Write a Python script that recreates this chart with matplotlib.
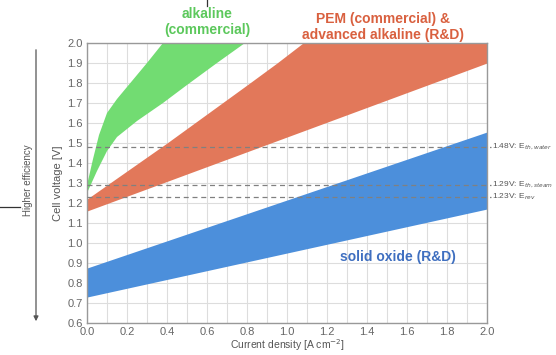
import matplotlib
matplotlib.use('Agg')
import matplotlib.pyplot as plt
import numpy as np

plt.rcParams['font.family'] = ['Liberation Sans', 'DejaVu Sans']

# alkaline (commercial) band: upper and lower edge
alk_up_x = [0.0, 0.03, 0.06, 0.1, 0.15, 0.2, 0.3, 0.38]
alk_up_y = [1.29, 1.42, 1.54, 1.65, 1.72, 1.78, 1.9, 2.0]
alk_lo_x = [0.0, 0.05, 0.1, 0.15, 0.25, 0.38, 0.5, 0.65, 0.79]
alk_lo_y = [1.25, 1.36, 1.46, 1.53, 1.61, 1.7, 1.79, 1.9, 2.0]

# PEM band
pem_up_x = [0.0, 0.4, 0.8, 0.95, 1.08, 2.0]
pem_up_y = [1.22, 1.5, 1.79, 1.9, 2.0, 2.0]
pem_lo_x = [0.0, 2.0]
pem_lo_y = [1.16, 1.9]

# solid oxide band
soe_x = [0.0, 2.0]
soe_up = [0.875, 1.555]
soe_lo = [0.73, 1.17]

ref_v = [1.48, 1.29, 1.23]
ref_lbl = ['1.48V: E$_{th,water}$', '1.29V: E$_{th,steam}$', '1.23V: E$_{rev}$']

green = '#72dc72'
red = '#e2785a'
blue = '#4c8fdb'

fig = plt.figure(figsize=(5.56, 3.55), dpi=100)
ax = fig.add_axes([0.1565, 0.09, 0.7195, 0.789])

xs = np.linspace(0, 2.0, 401)

# green band as polygon
gx = alk_up_x + alk_lo_x[::-1]
gy = alk_up_y + alk_lo_y[::-1]
ax.fill(gx, gy, color=green, lw=0, zorder=2)

pu = np.interp(xs, pem_up_x, pem_up_y)
pl = np.interp(xs, pem_lo_x, pem_lo_y)
ax.fill_between(xs, pl, pu, color=red, lw=0, zorder=2)

su = np.interp(xs, soe_x, soe_up)
sl = np.interp(xs, soe_x, soe_lo)
ax.fill_between(xs, sl, su, color=blue, lw=0, zorder=2)

for v, lb in zip(ref_v, ref_lbl):
    ax.plot([0, 2.02], [v, v], ls=(0, (4, 3)), color='#808080', lw=0.9,
            clip_on=False, zorder=3)
    ax.text(2.025, v, lb, fontsize=6, color='#555555', va='center',
            ha='left', clip_on=False)

ax.set_xlim(0, 2.0)
ax.set_ylim(0.6, 2.0)
ax.set_xticks(np.arange(0, 2.01, 0.2))
ax.set_yticks(np.arange(0.6, 2.01, 0.1))
ax.set_xticks(np.arange(0, 2.01, 0.1), minor=True)
ax.xaxis.set_major_formatter(matplotlib.ticker.FormatStrFormatter('%.1f'))
ax.yaxis.set_major_formatter(matplotlib.ticker.FormatStrFormatter('%.1f'))
ax.grid(True, which='both', color='#dddddd', lw=0.8, zorder=0)
ax.set_axisbelow(True)
ax.tick_params(which='both', length=0, labelsize=8, colors='#666666',
               pad=3)
for s in ax.spines.values():
    s.set_color('#999999')
    s.set_linewidth(1.0)

ax.set_xlabel('Current density [A cm$^{-2}$]', fontsize=7.5, color='#555555',
              labelpad=0)
ax.set_ylabel('Cell voltage [V]', fontsize=8, color='#555555', labelpad=3)

fig.text(207 / 556, 1 - 22 / 355, 'alkaline\n(commercial)', color='#5cc85c',
         fontsize=10, fontweight='bold', ha='center', va='center',
         linespacing=1.1)
fig.text(383 / 556, 1 - 27 / 355, 'PEM (commercial) &\nadvanced alkaline (R&D)',
         color='#d9603f', fontsize=10, fontweight='bold', ha='center',
         va='center', linespacing=1.1)
ax.text(1.555, 0.93, 'solid oxide (R&D)', color='#3f6fc0', fontsize=10,
        fontweight='bold', ha='center', va='center')

# left efficiency arrow and stray guide lines
fig.patches.append(matplotlib.patches.FancyArrowPatch(
    (36 / 556, 1 - 47 / 355), (36 / 556, 1 - 324 / 355),
    transform=fig.transFigure, arrowstyle='-|>', mutation_scale=7,
    color='#555555', lw=0.9))
fig.text(28 / 556, 1 - 180 / 355, 'Higher efficiency', rotation=90,
         fontsize=7, color='#555555', ha='center', va='center')
fig.lines.append(matplotlib.lines.Line2D([0, 20 / 556],
                                         [1 - 207 / 355, 1 - 207 / 355],
                                         transform=fig.transFigure,
                                         color='#333333', lw=0.9))
fig.lines.append(matplotlib.lines.Line2D([207 / 556, 207 / 556],
                                         [1.0, 1 - 6 / 355],
                                         transform=fig.transFigure,
                                         color='#333333', lw=0.9))

fig.savefig('out.png', dpi=100)
